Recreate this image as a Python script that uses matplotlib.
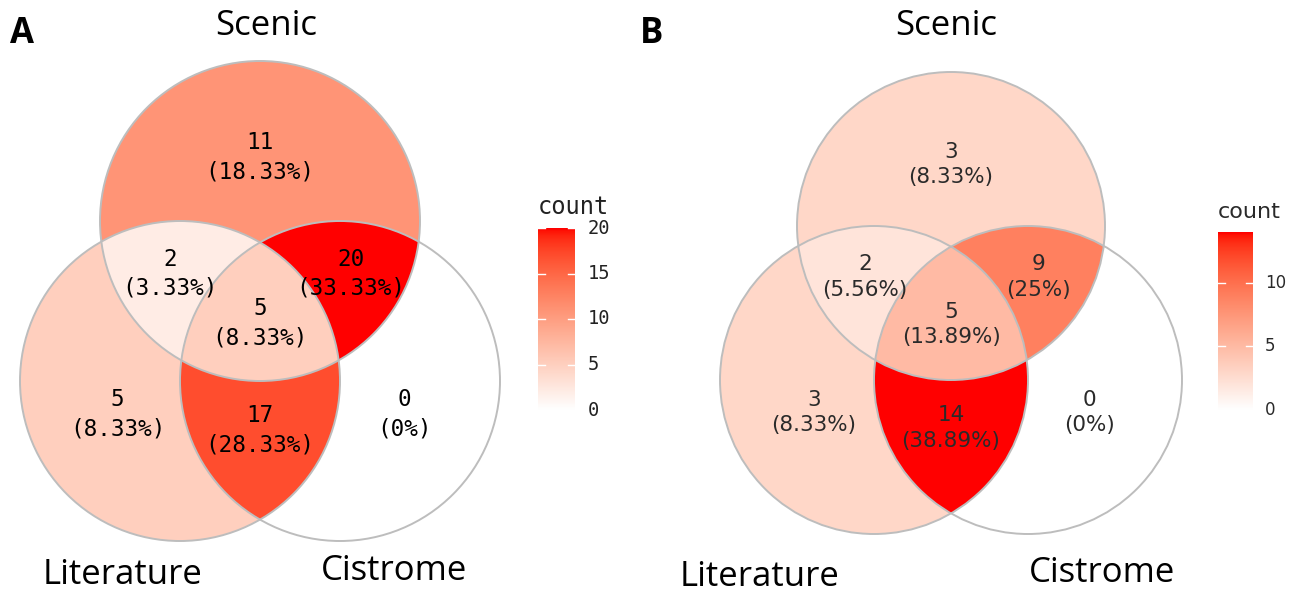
import matplotlib
matplotlib.use("Agg")
import matplotlib.pyplot as plt
import numpy as np
from matplotlib.colors import ListedColormap, Normalize
from matplotlib.patches import Circle, Polygon

# region order: Scenic only, Literature only, Cistrome only, S&L, S&C, L&C, S&L&C
REGIONS = ["S", "L", "C", "SL", "SC", "LC", "SLC"]
COUNTS_A = [11, 5, 0, 2, 20, 17, 5]
COUNTS_B = [3, 3, 0, 2, 9, 14, 5]
VMAX_A, VMAX_B = 20, 14
TICKS_A = [0, 5, 10, 15, 20]
TICKS_B = [0, 5, 10]
SET_NAMES = ["Scenic", "Literature", "Cistrome"]

CENTERS = {"S": (0.0, 1.0), "L": (-0.5, 0.0), "C": (0.5, 0.0)}
LABEL_POS = {"S": (0.0, 1.40), "L": (-0.89, -0.21), "C": (0.90, -0.21),
             "SL": (-0.56, 0.67), "SC": (0.57, 0.67), "LC": (0.0, -0.31),
             "SLC": (0.0, 0.36)}
EDGE = "#bdbdbd"
W, H = 1300, 594


def white_red_lab(n=256):
    # ggplot-style gradient: interpolate white -> red in CIE Lab
    t = np.linspace(0, 1, n)
    L = 100 + t * (53.2408 - 100)
    a = t * 80.0925
    b = t * 67.2032
    fy = (L + 16) / 116
    fx = fy + a / 500
    fz = fy - b / 200
    finv = lambda v: np.where(v > 6 / 29, v ** 3, 3 * (6 / 29) ** 2 * (v - 4 / 29))
    X, Y, Z = 0.95047 * finv(fx), finv(fy), 1.08883 * finv(fz)
    r = 3.2406 * X - 1.5372 * Y - 0.4986 * Z
    g = -0.9689 * X + 1.8758 * Y + 0.0415 * Z
    bb = 0.0557 * X - 0.2040 * Y + 1.0570 * Z
    rgb = np.stack([r, g, bb], axis=1).clip(0, 1)
    rgb = np.where(rgb <= 0.0031308, 12.92 * rgb, 1.055 * rgb ** (1 / 2.4) - 0.055)
    return ListedColormap(rgb.clip(0, 1))


CMAP = white_red_lab()


def region_polygon(keys):
    th = np.linspace(0, 2 * np.pi, 1440, endpoint=False)
    pts = []
    for k in keys:
        cx, cy = CENTERS[k]
        p = np.c_[cx + np.cos(th), cy + np.sin(th)]
        keep = np.ones(len(p), bool)
        for o in keys:
            if o == k:
                continue
            ox, oy = CENTERS[o]
            keep &= (p[:, 0] - ox) ** 2 + (p[:, 1] - oy) ** 2 <= 1 + 1e-9
        pts.append(p[keep])
    pts = np.vstack(pts)
    c = pts.mean(axis=0)
    order = np.argsort(np.arctan2(pts[:, 1] - c[1], pts[:, 0] - c[0]))
    return pts[order]


def pct(c, total):
    return f"{round(100 * c / total, 2):g}%"


def draw_panel(origin, scale, counts, vmax, font, fs, tcolor, name_pos):
    ox, oy = origin
    xl, yl = (-1.6, 1.6), (-1.3, 2.2)
    left = ox + xl[0] * scale
    bottom = oy - yl[0] * scale
    ax = plt.gcf().add_axes([left / W, (H - bottom) / H,
                             (xl[1] - xl[0]) * scale / W, (yl[1] - yl[0]) * scale / H])
    ax.set_xlim(*xl)
    ax.set_ylim(*yl)
    ax.axis("off")
    norm = Normalize(0, vmax)
    vals = dict(zip(REGIONS, counts))
    for k in ["S", "L", "C"]:
        ax.add_patch(Circle(CENTERS[k], 1, facecolor=CMAP(norm(vals[k])), edgecolor="none"))
    for k in ["SL", "SC", "LC", "SLC"]:
        ax.add_patch(Polygon(region_polygon(list(k)), closed=True,
                             facecolor=CMAP(norm(vals[k])), edgecolor="none"))
    for k in ["S", "L", "C"]:
        ax.add_patch(Circle(CENTERS[k], 1, fill=False, edgecolor=EDGE, lw=1.4))
    total = sum(counts)
    for k in REGIONS:
        x, y = LABEL_POS[k]
        ax.text(x, y, f"{vals[k]}\n({pct(vals[k], total)})", ha="center", va="center",
                fontsize=fs, family=font, color=tcolor, linespacing=1.35)
    for nm, (x, y) in zip(SET_NAMES, name_pos):
        ax.text(x, y, nm, ha="center", va="center", fontsize=25, family="Open Sans",
                color="black")
    return norm


def draw_colorbar(box, vmax, ticks, font, title_fs, tick_fs, tcolor, title_y):
    x0, y0, x1, y1 = box
    cax = plt.gcf().add_axes([x0 / W, (H - y1) / H, (x1 - x0) / W, (y1 - y0) / H])
    grad = np.linspace(0, vmax, 300)[:, None]
    cax.imshow(grad, cmap=CMAP, vmin=0, vmax=vmax, aspect="auto", origin="lower",
               extent=[0, 1, 0, vmax])
    for t in ticks:
        cax.plot([0, 0.2], [t, t], color="white", lw=1)
        cax.plot([0.8, 1], [t, t], color="white", lw=1)
    cax.set_xlim(0, 1)
    cax.set_ylim(0, vmax)
    cax.axis("off")
    for t in ticks:
        cax.text(1.35, t, str(t), ha="left", va="center", fontsize=tick_fs,
                 family=font, color=tcolor)
    plt.gcf().text(x0 / W, 1 - title_y / H, "count", ha="left", va="center",
                   fontsize=title_fs, family=font, color=tcolor)


fig = plt.figure(figsize=(W / 100, H / 100), dpi=100)

draw_panel((260, 381), 160, COUNTS_A, VMAX_A, "DejaVu Sans Mono", 16.3, "black",
           [(0.04, 2.22), (-0.86, -1.21), (0.84, -1.19)])
draw_colorbar((538, 228, 575, 410), VMAX_A, TICKS_A, "DejaVu Sans Mono", 17, 13.5,
              "#222222", 207)

draw_panel((951, 380), 154, COUNTS_B, VMAX_B, "DejaVu Sans", 15.5, "#2a2a2a",
           [(-0.03, 2.30), (-1.24, -1.28), (0.98, -1.25)])
draw_colorbar((1218, 232, 1253, 410), VMAX_B, TICKS_B, "DejaVu Sans", 16, 12,
              "#2a2a2a", 212)

fig.text(22 / W, 1 - 34 / H, "A", ha="center", va="center", fontsize=25,
         family="Open Sans", fontweight="bold")
fig.text(652 / W, 1 - 34 / H, "B", ha="center", va="center", fontsize=25,
         family="Open Sans", fontweight="bold")

fig.savefig("out.png", dpi=100)
